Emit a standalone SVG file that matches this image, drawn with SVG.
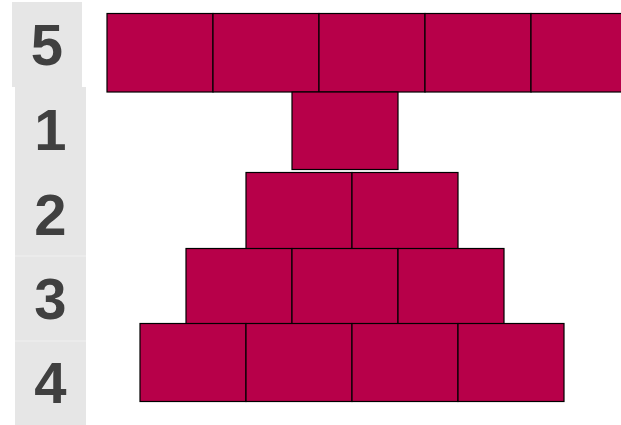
<svg xmlns="http://www.w3.org/2000/svg" width="621" height="425" viewBox="0 0 621 425">
<style>
.lbl{fill:#e6e6e6}
.num{font-family:"Liberation Sans",Arial,sans-serif;font-weight:bold;font-size:58px;fill:#404040;text-anchor:middle}
.blk{fill:#b70049;stroke:#000;stroke-width:1.2}
.sh{fill:none;stroke:#999;stroke-width:1}
</style>
<rect width="621" height="425" fill="#fff"/>
<g id="labels">
<g id="label-5"><rect class="lbl" x="12" y="2" width="70" height="85"/><text class="num" x="47" y="65">5</text></g>
<g id="label-1"><rect class="lbl" x="15" y="87" width="71" height="85"/><text class="num" x="50.5" y="150">1</text></g>
<g id="label-2"><rect class="lbl" x="15" y="172" width="71" height="84"/><text class="num" x="50.5" y="235">2</text></g>
<g id="label-3"><rect class="lbl" x="15" y="256" width="71" height="85"/><text class="num" x="50.5" y="319">3</text></g>
<g id="label-4"><rect class="lbl" x="15" y="341" width="71" height="84"/><text class="num" x="50.5" y="403">4</text></g>
<line x1="15" y1="256" x2="86" y2="256" stroke="#f0f0f0" stroke-width="1"/>
<line x1="15" y1="341" x2="86" y2="341" stroke="#f0f0f0" stroke-width="1"/>
</g>
<g id="row5">
<rect class="blk" x="107" y="13.5" width="106" height="78.5"/>
<rect class="blk" x="213" y="13.5" width="106" height="78.5"/>
<rect class="blk" x="319" y="13.5" width="106" height="78.5"/>
<rect class="blk" x="425" y="13.5" width="106" height="78.5"/>
<rect class="blk" x="531" y="13.5" width="106" height="78.5"/>
</g>
<g id="row1">
<rect class="blk" x="292" y="92" width="106" height="77.5"/>
</g>
<g id="row2">
<rect class="blk" x="246" y="172.5" width="106" height="78"/>
<rect class="blk" x="352" y="172.5" width="106" height="78"/>
</g>
<g id="row3">
<rect class="blk" x="186" y="248.5" width="106" height="77.5"/>
<rect class="blk" x="292" y="248.5" width="106" height="77.5"/>
<rect class="blk" x="398" y="248.5" width="106" height="77.5"/>
</g>
<g id="row4">
<rect class="blk" x="140" y="323.5" width="106" height="78"/>
<rect class="blk" x="246" y="323.5" width="106" height="78"/>
<rect class="blk" x="352" y="323.5" width="106" height="78"/>
<rect class="blk" x="458" y="323.5" width="106" height="78"/>
</g>
</svg>
